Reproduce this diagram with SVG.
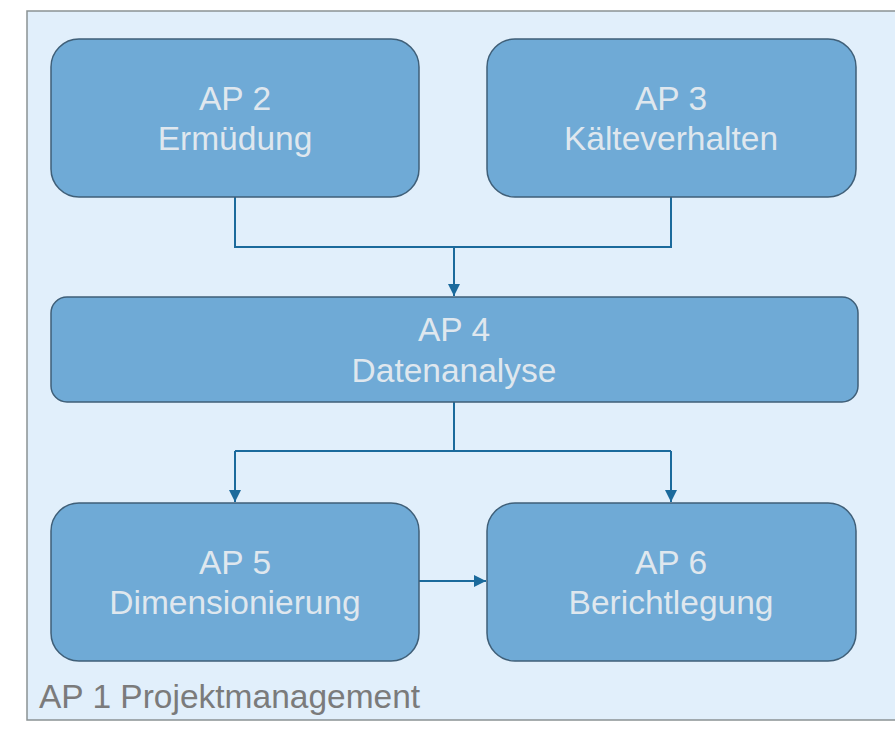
<svg xmlns="http://www.w3.org/2000/svg" width="895" height="745" viewBox="0 0 895 745">
<style>
.node rect{fill:#6faad6;stroke:#3f5f78;stroke-width:1.5}
.node text{font-family:"Liberation Sans",Arial,sans-serif;font-size:33.5px;fill:#dfe7ee;text-anchor:middle}
.conn{fill:none;stroke:#1b6a9c;stroke-width:2}
</style>
<defs>
<marker id="arr" viewBox="0 0 10 10" refX="10" refY="5" markerWidth="6" markerHeight="6" orient="auto" markerUnits="strokeWidth">
<path d="M0,0 L10,5 L0,10 z" fill="#1b6a9c"/>
</marker>
</defs>
<rect width="895" height="745" fill="#ffffff"/>
<g id="ap1">
<rect x="27" y="11" width="880" height="709" fill="#e1effb" stroke="#8a9294" stroke-width="1.5"/>
<text x="39" y="708" font-family="'Liberation Sans',Arial,sans-serif" font-size="33.5" fill="#7b7b7b">AP 1 Projektmanagement</text>
</g>
<g id="connectors">
<polyline class="conn" points="235,197 235,247 671,247 671,197"/>
<line class="conn" x1="454" y1="247" x2="454" y2="296" marker-end="url(#arr)"/>
<polyline class="conn" points="454,402 454,451"/>
<polyline class="conn" points="235,451 671,451"/>
<line class="conn" x1="235" y1="451" x2="235" y2="502" marker-end="url(#arr)"/>
<line class="conn" x1="671" y1="451" x2="671" y2="502" marker-end="url(#arr)"/>
<line class="conn" x1="419" y1="581" x2="486" y2="581" marker-end="url(#arr)"/>
</g>
<g id="ap2" class="node">
<rect x="51" y="39" width="368" height="158" rx="28"/>
<text x="235" y="110">AP 2</text>
<text x="235" y="150">Ermüdung</text>
</g>
<g id="ap3" class="node">
<rect x="487" y="39" width="369" height="158" rx="28"/>
<text x="671" y="110">AP 3</text>
<text x="671" y="150">Kälteverhalten</text>
</g>
<g id="ap4" class="node">
<rect x="51" y="297" width="807" height="105" rx="16"/>
<text x="454" y="341">AP 4</text>
<text x="454" y="382">Datenanalyse</text>
</g>
<g id="ap5" class="node">
<rect x="51" y="503" width="368" height="158" rx="28"/>
<text x="235" y="574">AP 5</text>
<text x="235" y="614">Dimensionierung</text>
</g>
<g id="ap6" class="node">
<rect x="487" y="503" width="369" height="158" rx="28"/>
<text x="671" y="574">AP 6</text>
<text x="671" y="614">Berichtlegung</text>
</g>
</svg>
